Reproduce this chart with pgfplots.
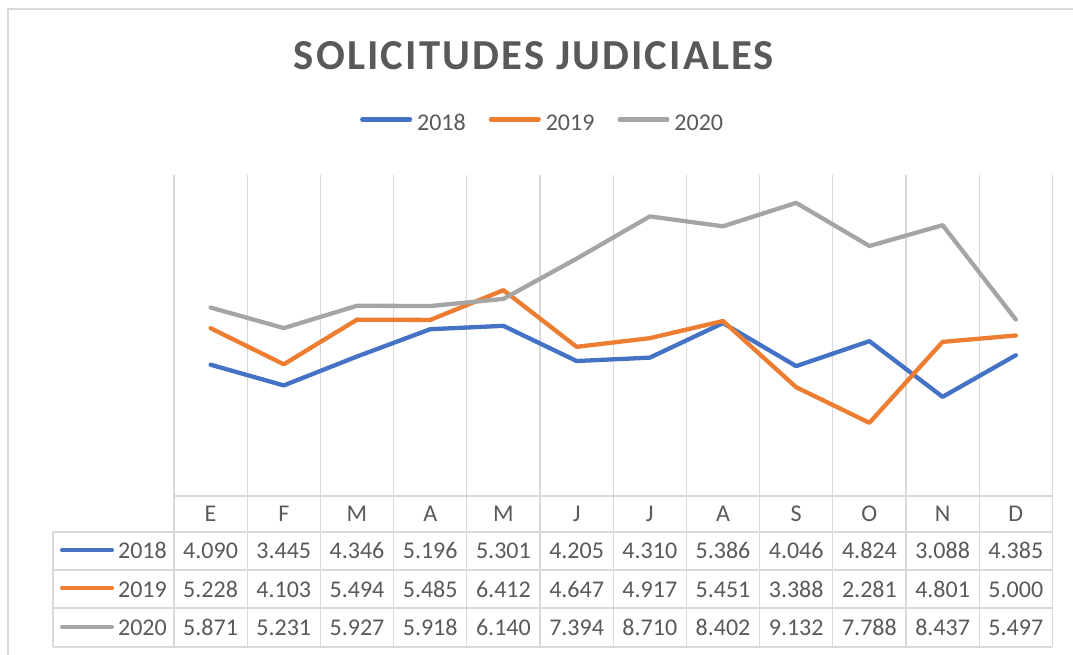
\documentclass[border=0pt]{standalone}
\usepackage{pgfplots}
\pgfplotsset{compat=1.18}
\usepackage{fontspec}
\setmainfont{Carlito}
\newfontfamily\titlefont[LetterSpace=5.0]{Carlito}
\definecolor{c18}{HTML}{4472C4}
\definecolor{c19}{HTML}{ED7D31}
\definecolor{c20}{HTML}{A5A5A5}
\definecolor{gridc}{HTML}{D9D9D9}
\definecolor{txt}{HTML}{595959}
\begin{document}
\begin{tikzpicture}[x=1pt,y=1pt]
\useasboundingbox (0,0) rectangle (1073,-655);
\draw[gridc, line width=1.3pt] (8,-655) -- (8,-9) -- (1073,-9);
\node[anchor=base, text=txt, inner sep=0pt, font=\titlefont\bfseries\fontsize{42.7}{50}\selectfont] at (534,-70) {SOLICITUDES JUDICIALES};
\begin{axis}[at={(174pt,-496pt)}, anchor=south west,
  width=878.4pt, height=321pt, scale only axis,
  xmin=0, xmax=12, ymin=0, ymax=10000,
  xtick={0,1,...,12}, xticklabels={}, ytick=\empty,
  xmajorgrids, grid style={color=gridc, line width=1.3pt},
  axis line style={draw=none}, major tick length=0pt,
  clip=false,
  legend columns=3,
  legend style={at={(0.4185,1.162)}, anchor=center, draw=none, fill=none,
    inner sep=0pt, column sep=0pt,
    nodes={inner sep=0pt, text=txt, font=\fontsize{24}{28}\selectfont},
    /tikz/every odd column/.style={column sep=5pt},
    /tikz/every even column/.style={column sep=23pt}},
  legend image code/.code={\draw[#1, line width=4.2pt, line cap=round] (2.1pt,0.35em) -- (49.9pt,0.35em);},
]
\addplot[draw=c18, line width=4.3pt, line join=round, line cap=round, mark=none] coordinates {(0.5,4090)(1.5,3445)(2.5,4346)(3.5,5196)(4.5,5301)(5.5,4205)(6.5,4310)(7.5,5386)(8.5,4046)(9.5,4824)(10.5,3088)(11.5,4385)};
\addlegendentry{2018}
\addplot[draw=c19, line width=4.3pt, line join=round, line cap=round, mark=none] coordinates {(0.5,5228)(1.5,4103)(2.5,5494)(3.5,5485)(4.5,6412)(5.5,4647)(6.5,4917)(7.5,5451)(8.5,3388)(9.5,2281)(10.5,4801)(11.5,5000)};
\addlegendentry{2019}
\addplot[draw=c20, line width=4.3pt, line join=round, line cap=round, mark=none] coordinates {(0.5,5871)(1.5,5231)(2.5,5927)(3.5,5918)(4.5,6140)(5.5,7394)(6.5,8710)(7.5,8402)(8.5,9132)(9.5,7788)(10.5,8437)(11.5,5497)};
\addlegendentry{2020}
\end{axis}
% data table
\begin{scope}[gridc, line width=1.3pt]
\draw (174,-496) -- (1052.4,-496);
\foreach \yy in {532,570,608,647} {\draw (53,-\yy) -- (1052.4,-\yy);}
\draw (53,-532) -- (53,-647);
\foreach \i in {0,...,12} {\draw ({174+73.2*\i},-496) -- ({174+73.2*\i},-647);}
\end{scope}
\begin{scope}[every node/.style={anchor=base, inner sep=0pt, text=txt, font=\fontsize{24}{28}\selectfont}]
\foreach \t [count=\i from 0] in {E,F,M,A,M,J,J,A,S,O,N,D} {\node at ({174+73.2*(\i+0.5)},-521) {\t};}
\foreach \t [count=\i from 0] in {4.090,3.445,4.346,5.196,5.301,4.205,4.310,5.386,4.046,4.824,3.088,4.385} {\node at ({174+73.2*(\i+0.5)},-558) {\t};}
\foreach \t [count=\i from 0] in {5.228,4.103,5.494,5.485,6.412,4.647,4.917,5.451,3.388,2.281,4.801,5.000} {\node at ({174+73.2*(\i+0.5)},-597) {\t};}
\foreach \t [count=\i from 0] in {5.871,5.231,5.927,5.918,6.140,7.394,8.710,8.402,9.132,7.788,8.437,5.497} {\node at ({174+73.2*(\i+0.5)},-635) {\t};}
\node[anchor=base east] at (167,-558) {2018};
\node[anchor=base east] at (167,-597) {2019};
\node[anchor=base east] at (167,-635) {2020};
\end{scope}
\draw[c18, line width=4pt, line cap=round] (62,-550.3) -- (112,-550.3);
\draw[c19, line width=4pt, line cap=round] (62,-588.3) -- (112,-588.3);
\draw[c20, line width=4pt, line cap=round] (62,-626.7) -- (112,-626.7);
\end{tikzpicture}
\end{document}
